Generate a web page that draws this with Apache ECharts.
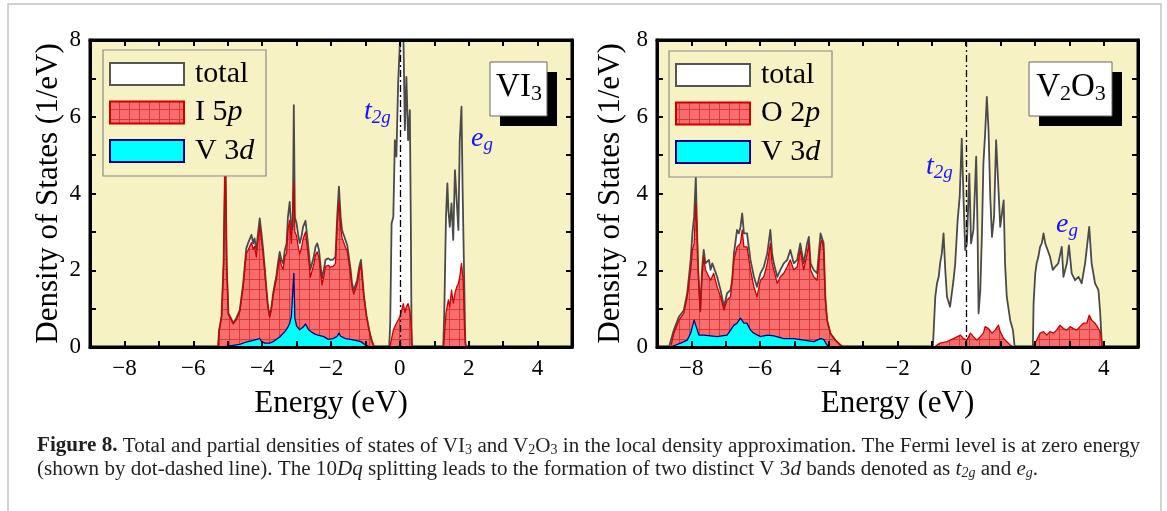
<!DOCTYPE html>
<html><head><meta charset="utf-8">
<script src="https://cdn.jsdelivr.net/npm/echarts/dist/echarts.min.js"></script>
<style>html,body{margin:0;padding:0;background:#fff}#c{width:1167px;height:511px}</style>
</head><body><div id="c"></div>
<script>
// ---------------- data (Energy eV, DOS 1/eV) ----------------
const xTickValues = [-8, -6, -4, -2, 0, 2, 4];
const xTickLabels = ['\u22128', '\u22126', '\u22124', '\u22122', '0', '2', '4'];
const yTickValues = [0, 2, 4, 6, 8];
const yTickLabels = ['0', '2', '4', '6', '8'];

// VI3 panel
const vi3TotalVB = [[-5.28,0],[-5.25,0.44],[-5.18,0.79],[-5.12,2.18],[-5.07,5.26],[-5.03,2.18],[-4.98,0.88],[-4.84,0.63],[-4.75,0.75],[-4.65,0.96],[-4.55,1.66],[-4.46,2.57],[-4.41,2.70],[-4.36,2.66],[-4.31,2.92],[-4.26,2.70],[-4.22,2.83],[-4.17,2.53],[-4.12,2.96],[-4.07,3.35],[-4.02,2.96],[-3.97,2.53],[-3.92,2.01],[-3.88,1.57],[-3.83,1.05],[-3.78,0.81],[-3.73,1.05],[-3.68,1.40],[-3.63,1.66],[-3.59,1.83],[-3.54,2.18],[-3.49,2.48],[-3.44,2.27],[-3.39,2.18],[-3.34,2.53],[-3.29,2.70],[-3.25,3.39],[-3.20,3.78],[-3.15,3.05],[-3.11,3.13],[-3.08,6.30],[-3.05,3.39],[-3.00,3.22],[-2.96,2.96],[-2.91,2.70],[-2.86,2.87],[-2.81,3.13],[-2.74,3.29],[-2.69,2.87],[-2.65,2.53],[-2.60,2.01],[-2.55,1.96],[-2.50,2.35],[-2.45,2.61],[-2.40,2.70],[-2.35,2.53],[-2.31,2.18],[-2.26,1.79],[-2.21,2.01],[-2.16,2.27],[-2.08,2.31],[-2.02,2.27],[-1.94,2.28],[-1.87,2.35],[-1.82,3.39],[-1.77,4.18],[-1.72,3.39],[-1.68,3.05],[-1.63,3.09],[-1.58,2.79],[-1.53,2.66],[-1.48,2.35],[-1.43,2.01],[-1.39,1.66],[-1.34,1.48],[-1.29,1.44],[-1.24,1.74],[-1.18,2.09],[-1.13,2.27],[-1.09,1.83],[-1.04,1.31],[-0.97,0.83],[-0.89,0.44],[-0.82,0.18],[-0.76,0.03],[-0.72,0]];
const vi3TotalT2g = [[-0.31,0],[-0.28,0.62],[-0.24,3.22],[-0.19,3.39],[-0.145,5.39],[-0.10,4.96],[-0.05,6.87],[0.0,7.9],[0.05,8.6],[0.10,8.3],[0.145,5.65],[0.19,7.04],[0.24,5.39],[0.29,6.17],[0.32,3.05],[0.34,0.10],[0.36,0]];
const vi3TotalEg = [[1.26,0],[1.29,0.88],[1.34,3.39],[1.38,4.26],[1.41,3.56],[1.45,3.13],[1.50,3.74],[1.55,2.79],[1.60,4.61],[1.65,4.65],[1.70,3.05],[1.74,5.39],[1.79,6.26],[1.82,4.26],[1.86,2.18],[1.90,0.10],[1.92,0]];
const vi3I5pVB = [[-5.28,0],[-5.25,0.42],[-5.18,0.77],[-5.12,2.15],[-5.07,5.20],[-5.03,2.15],[-4.98,0.85],[-4.84,0.60],[-4.75,0.71],[-4.65,0.92],[-4.55,1.58],[-4.46,2.44],[-4.41,2.52],[-4.36,2.50],[-4.31,2.72],[-4.26,2.55],[-4.22,2.62],[-4.17,2.35],[-4.12,2.80],[-4.07,3.15],[-4.02,2.78],[-3.97,2.40],[-3.92,1.90],[-3.88,1.50],[-3.83,1.00],[-3.78,0.77],[-3.73,1.00],[-3.68,1.33],[-3.63,1.58],[-3.59,1.74],[-3.54,2.06],[-3.49,2.33],[-3.44,2.12],[-3.39,2.02],[-3.34,2.35],[-3.29,2.45],[-3.25,3.05],[-3.20,3.30],[-3.15,2.70],[-3.11,2.75],[-3.08,4.30],[-3.05,3.00],[-3.00,2.90],[-2.96,2.65],[-2.91,2.42],[-2.86,2.58],[-2.81,2.82],[-2.74,3.00],[-2.69,2.60],[-2.65,2.30],[-2.60,1.82],[-2.55,1.78],[-2.50,2.15],[-2.45,2.40],[-2.40,2.48],[-2.35,2.33],[-2.31,2.00],[-2.26,1.62],[-2.21,1.84],[-2.16,2.10],[-2.08,2.13],[-2.02,2.08],[-1.94,2.10],[-1.87,2.18],[-1.82,3.15],[-1.77,3.80],[-1.72,3.12],[-1.68,2.85],[-1.63,2.90],[-1.58,2.60],[-1.53,2.50],[-1.48,2.20],[-1.43,1.88],[-1.39,1.56],[-1.34,1.38],[-1.29,1.35],[-1.24,1.64],[-1.18,1.98],[-1.13,2.16],[-1.09,1.75],[-1.04,1.25],[-0.97,0.79],[-0.89,0.42],[-0.82,0.17],[-0.76,0.03],[-0.72,0]];
const vi3I5pT2g = [[-0.29,0],[-0.28,0.05],[-0.19,0.44],[-0.10,0.62],[0.0,0.79],[0.05,0.95],[0.10,1.13],[0.145,0.90],[0.19,1.05],[0.24,1.13],[0.29,0.95],[0.34,0.45],[0.36,0]];
const vi3I5pEg = [[1.26,0],[1.28,0.10],[1.34,0.88],[1.41,1.23],[1.45,1.05],[1.50,1.48],[1.55,1.14],[1.60,1.40],[1.65,1.56],[1.70,1.65],[1.74,1.83],[1.79,2.18],[1.84,1.74],[1.88,0.44],[1.92,0]];
const vi3V3dVB = [[-5.28,0],[-5.10,0.01],[-4.98,0.02],[-4.84,0.04],[-4.65,0.07],[-4.46,0.13],[-4.26,0.17],[-4.07,0.22],[-4.02,0.15],[-3.92,0.10],[-3.78,0.10],[-3.68,0.14],[-3.49,0.26],[-3.34,0.40],[-3.25,0.52],[-3.20,0.62],[-3.15,0.80],[-3.11,0.85],[-3.08,1.92],[-3.05,0.75],[-3.00,0.55],[-2.91,0.45],[-2.81,0.52],[-2.74,0.60],[-2.65,0.45],[-2.55,0.38],[-2.45,0.33],[-2.35,0.30],[-2.21,0.27],[-2.08,0.20],[-1.94,0.22],[-1.82,0.28],[-1.77,0.36],[-1.72,0.28],[-1.58,0.22],[-1.43,0.20],[-1.29,0.17],[-1.13,0.14],[-1.04,0.08],[-0.97,0.04],[-0.89,0.01],[-0.82,0]];

// V2O3 panel
const v2o3TotalVB = [[-8.65,0],[-8.51,0.44],[-8.36,0.79],[-8.22,0.96],[-8.12,1.40],[-8.02,2.27],[-7.97,2.96],[-7.92,3.39],[-7.87,4.43],[-7.85,3.65],[-7.81,2.18],[-7.74,0.96],[-7.69,2.01],[-7.64,2.53],[-7.59,2.18],[-7.54,2.18],[-7.49,2.27],[-7.44,2.01],[-7.39,2.18],[-7.35,2.18],[-7.25,1.83],[-7.15,1.48],[-7.05,1.05],[-6.96,1.40],[-6.86,1.48],[-6.81,1.74],[-6.76,2.44],[-6.67,3.05],[-6.62,2.96],[-6.57,3.13],[-6.52,3.48],[-6.47,2.96],[-6.38,2.96],[-6.28,2.27],[-6.18,1.83],[-6.09,1.57],[-5.99,1.92],[-5.89,2.09],[-5.79,2.44],[-5.70,3.05],[-5.65,2.44],[-5.60,2.18],[-5.50,1.83],[-5.41,2.01],[-5.31,2.18],[-5.21,2.27],[-5.12,2.53],[-5.07,2.35],[-5.02,2.18],[-4.92,2.27],[-4.83,2.70],[-4.73,2.18],[-4.63,2.70],[-4.58,2.87],[-4.53,2.18],[-4.44,2.01],[-4.34,1.92],[-4.24,2.96],[-4.20,3.00],[-4.15,2.70],[-4.10,1.31],[-4.05,0.70],[-3.95,0.35],[-3.81,0.18],[-3.66,0.05],[-3.57,0]];
const v2o3TotalT2g = [[-0.97,0],[-0.90,1.31],[-0.85,1.66],[-0.80,1.83],[-0.76,2.18],[-0.71,2.44],[-0.66,2.96],[-0.61,2.01],[-0.56,1.31],[-0.47,1.05],[-0.37,1.74],[-0.32,2.18],[-0.25,3.30],[-0.19,3.91],[-0.13,5.43],[-0.08,3.91],[-0.03,2.53],[0.02,2.70],[0.09,4.52],[0.14,2.70],[0.21,3.05],[0.29,4.96],[0.33,3.05],[0.36,0.88],[0.41,1.48],[0.46,3.05],[0.50,4.78],[0.55,5.56],[0.60,6.52],[0.65,5.65],[0.70,3.91],[0.75,2.87],[0.81,3.39],[0.87,5.39],[0.94,4.09],[0.99,3.13],[1.09,3.82],[1.13,2.18],[1.18,1.31],[1.28,0.70],[1.36,0.44],[1.41,0]];
const v2o3TotalEg = [[1.94,0],[1.96,1.13],[2.01,1.92],[2.05,2.18],[2.10,2.35],[2.15,2.61],[2.20,2.70],[2.25,2.96],[2.30,2.70],[2.34,2.70],[2.44,2.35],[2.52,2.01],[2.59,2.09],[2.68,2.18],[2.78,2.61],[2.83,1.83],[2.93,2.18],[2.99,2.65],[3.07,1.92],[3.17,1.74],[3.27,1.83],[3.36,1.66],[3.46,2.18],[3.58,3.13],[3.65,2.18],[3.75,1.66],[3.85,1.48],[3.90,0.88],[3.94,0.18],[3.96,0]];
const v2o3O2pVB = [[-8.60,0],[-8.51,0.36],[-8.36,0.70],[-8.22,0.88],[-8.12,1.31],[-8.02,2.01],[-7.97,2.53],[-7.92,2.70],[-7.87,3.74],[-7.83,2.87],[-7.79,1.74],[-7.74,0.92],[-7.69,1.83],[-7.64,2.35],[-7.59,2.01],[-7.54,1.92],[-7.44,1.74],[-7.35,1.92],[-7.25,1.57],[-7.15,1.31],[-7.05,0.96],[-6.96,1.23],[-6.86,1.31],[-6.76,2.27],[-6.67,2.61],[-6.57,2.70],[-6.52,3.05],[-6.47,2.61],[-6.38,2.61],[-6.28,2.01],[-6.18,1.57],[-6.09,1.31],[-5.99,1.74],[-5.89,1.83],[-5.79,2.18],[-5.70,2.70],[-5.65,2.18],[-5.60,2.01],[-5.50,1.66],[-5.41,1.83],[-5.31,1.92],[-5.21,2.09],[-5.12,2.27],[-5.02,2.01],[-4.92,2.09],[-4.83,2.53],[-4.73,2.01],[-4.63,2.44],[-4.58,2.70],[-4.53,2.01],[-4.44,1.83],[-4.34,1.74],[-4.24,2.70],[-4.20,2.79],[-4.15,2.53],[-4.10,1.22],[-4.05,0.70],[-3.95,0.35],[-3.81,0.18],[-3.66,0.05],[-3.57,0]];
const v2o3O2pT2g = [[-0.92,0],[-0.85,0.05],[-0.76,0.10],[-0.56,0.14],[-0.37,0.22],[-0.17,0.31],[-0.08,0.22],[0.02,0.18],[0.12,0.36],[0.21,0.27],[0.31,0.18],[0.41,0.27],[0.50,0.36],[0.55,0.53],[0.65,0.48],[0.75,0.36],[0.84,0.44],[0.94,0.57],[0.99,0.40],[1.09,0.22],[1.18,0.14],[1.28,0.05],[1.40,0]];
const v2o3O2pEg = [[1.94,0],[1.96,0.05],[2.05,0.18],[2.15,0.36],[2.25,0.40],[2.34,0.31],[2.44,0.40],[2.54,0.36],[2.63,0.44],[2.73,0.57],[2.83,0.48],[2.93,0.44],[3.02,0.53],[3.12,0.48],[3.21,0.44],[3.31,0.53],[3.41,0.62],[3.51,0.62],[3.58,0.83],[3.65,0.70],[3.75,0.62],[3.85,0.48],[3.92,0.35],[3.96,0]];
const v2o3V3dVB = [[-8.60,0],[-8.31,0.10],[-8.12,0.18],[-8.02,0.36],[-7.92,0.70],[-7.87,0.66],[-7.78,0.31],[-7.64,0.31],[-7.25,0.27],[-6.96,0.31],[-6.86,0.44],[-6.76,0.57],[-6.67,0.62],[-6.57,0.75],[-6.47,0.62],[-6.38,0.62],[-6.28,0.44],[-6.18,0.36],[-5.99,0.27],[-5.79,0.31],[-5.60,0.29],[-5.31,0.22],[-5.02,0.22],[-4.73,0.18],[-4.44,0.14],[-4.24,0.22],[-4.15,0.20],[-4.05,0.05],[-3.95,0]];

// ---------------- helpers ----------------
function joinBands(...bands) {
  const out = [];
  bands.forEach((b, i) => { if (i) out.push(['-', '-']); out.push(...b); });
  return out;
}
function makeHatch() {
  const c = document.createElement('canvas');
  c.width = 10; c.height = 10;
  const g = c.getContext('2d');
  g.fillStyle = '#f86e6e'; g.fillRect(0, 0, 10, 10);
  g.fillStyle = '#d83a3a'; g.fillRect(9, 0, 1, 10); g.fillRect(0, 9, 10, 1);
  return c;
}
const hatch = { image: makeHatch(), repeat: 'repeat' };
const SERIF = 'Liberation Serif, Times New Roman, serif';
const BG = '#f7f2c3';
const BLUE = '#1414ff';
const CAP = '#231f20';

function xLabel(v) { const i = xTickValues.indexOf(Math.round(v)); return i >= 0 && Math.abs(v - Math.round(v)) < 1e-6 ? xTickLabels[i] : ''; }
function yLabel(v) { const i = yTickValues.indexOf(Math.round(v)); return i >= 0 && Math.abs(v - Math.round(v)) < 1e-6 ? yTickLabels[i] : ''; }

const grids = [
  { left: 90, top: 40, width: 482, height: 307 },
  { left: 657, top: 40, width: 481, height: 307 }
].map(g => Object.assign(g, { show: true, backgroundColor: BG, borderColor: '#000', borderWidth: 3, containLabel: false, outerBoundsMode: 'none' }));

const tick = { show: true, inside: true, length: 6, lineStyle: { color: '#000', width: 2 } };
const line = { show: true, onZero: false, lineStyle: { color: '#000', width: 3 } };
const xAxes = [], yAxes = [];
[0, 1].forEach(gi => {
  xAxes.push({ type: 'value', gridIndex: gi, min: -9, max: 5, interval: 1, position: 'bottom', z: 5,
    axisLine: line, axisTick: tick, splitLine: { show: false },
    axisLabel: { formatter: xLabel, fontFamily: SERIF, fontSize: 23, color: '#000', margin: 10 },
    name: 'Energy (eV)', nameLocation: 'middle', nameGap: 41,
    nameTextStyle: { fontFamily: SERIF, fontSize: 31, color: '#000' } });
  xAxes.push({ type: 'value', gridIndex: gi, min: -9, max: 5, interval: 1, position: 'top', z: 5,
    axisLine: line, axisTick: tick, splitLine: { show: false }, axisLabel: { show: false } });
  yAxes.push({ type: 'value', gridIndex: gi, min: 0, max: 8, interval: 1, position: 'left', z: 5,
    axisLine: line, axisTick: tick, splitLine: { show: false },
    axisLabel: { formatter: yLabel, fontFamily: SERIF, fontSize: 23, color: '#000', margin: 9 },
    name: 'Density of States (1/eV)', nameLocation: 'middle', nameGap: gi === 0 ? 26 : 31, nameRotate: 90,
    nameTextStyle: { fontFamily: SERIF, fontSize: 31, color: '#000' } });
  yAxes.push({ type: 'value', gridIndex: gi, min: 0, max: 8, interval: 1, position: 'right', z: 5,
    axisLine: line, axisTick: tick, splitLine: { show: false }, axisLabel: { show: false } });
});

function areaSeries(name, gi, data, lineColor, lineWidth, fill, extra) {
  return Object.assign({
    type: 'line', name, xAxisIndex: gi * 2, yAxisIndex: gi * 2, data,
    symbol: 'none', showSymbol: false, smooth: false, connectNulls: false, clip: true,
    lineStyle: { color: lineColor, width: lineWidth, join: 'round' },
    areaStyle: { color: fill, opacity: 1 }, z: 2
  }, extra || {});
}
const fermi = { markLine: { symbol: 'none', silent: true, label: { show: false },
  lineStyle: { color: '#000', width: 1.3, type: [7, 3, 2, 3] }, data: [{ xAxis: 0 }] } };

const series = [
  areaSeries('total', 0, joinBands(vi3TotalVB, vi3TotalT2g, vi3TotalEg), '#4a4a4a', 1.8, '#ffffff'),
  areaSeries('I 5p', 0, joinBands(vi3I5pVB, vi3I5pT2g, vi3I5pEg), '#cc0000', 1.3, hatch),
  areaSeries('V 3d', 0, vi3V3dVB, '#000080', 1.3, '#00ffff', fermi),
  areaSeries('total', 1, joinBands(v2o3TotalVB, v2o3TotalT2g, v2o3TotalEg), '#4a4a4a', 1.8, '#ffffff'),
  areaSeries('O 2p', 1, joinBands(v2o3O2pVB, v2o3O2pT2g, v2o3O2pEg), '#cc0000', 1.3, hatch),
  areaSeries('V 3d', 1, v2o3V3dVB, '#000080', 1.3, '#00ffff', fermi)
];

// ---------------- graphic: legends, labels, caption ----------------
const G = [];
G.push({ type: 'rect', silent: true, z: 0, shape: { x: 8, y: 4, width: 1153, height: 700 }, style: { fill: 'none', stroke: '#c4c4c4', lineWidth: 1.5 } });

function legend(x0, y0, names) {
  G.push({ type: 'rect', z: 10, shape: { x: x0, y: y0, width: 163, height: 126 }, style: { fill: BG, stroke: '#8a8a8a', lineWidth: 1.2 } });
  const sw = [
    { fill: '#ffffff', stroke: '#555' },
    { fill: hatch, stroke: '#cc0000' },
    { fill: '#00ffff', stroke: '#000080' }
  ];
  [0, 1, 2].forEach(i => {
    const cy = y0 + 24 + i * 38.5;
    G.push({ type: 'rect', z: 11, shape: { x: x0 + 7, y: cy - 11, width: 74, height: 22 }, style: Object.assign({ lineWidth: 2 }, sw[i]) });
    G.push({ type: 'text', z: 11, x: x0 + 92, y: cy, style: { text: names[i], align: 'left', verticalAlign: 'middle',
      rich: { n: { fontFamily: SERIF, fontSize: 30, fill: '#000' }, i: { fontFamily: SERIF, fontSize: 30, fontStyle: 'italic', fill: '#000' } } } });
  });
}
legend(103, 50, ['{n|total}', '{n|I 5}{i|p}', '{n|V 3}{i|d}']);
legend(669, 51, ['{n|total}', '{n|O 2}{i|p}', '{n|V 3}{i|d}']);

function tagBox(x, y, w, h, text, cx) {
  G.push({ type: 'rect', z: 10, shape: { x: x + 10, y: y + 10, width: w, height: h }, style: { fill: '#000' } });
  G.push({ type: 'rect', z: 11, shape: { x: x, y: y, width: w, height: h }, style: { fill: '#fff', stroke: '#666', lineWidth: 1 } });
  G.push({ type: 'text', z: 12, x: cx, y: y + 7, style: { text, align: 'center', verticalAlign: 'top',
    rich: { a: { fontFamily: SERIF, fontSize: 33, lineHeight: 36, fill: '#000' },
            s: { fontFamily: SERIF, fontSize: 22, lineHeight: 22, fill: '#000', verticalAlign: 'bottom' } } } });
}
tagBox(490, 62, 57, 54, '{a|VI}{s|3}', 519);
tagBox(1029, 62, 83, 54, '{a|V}{s|2}{a|O}{s|3}', 1071);

const bandRich = {
  t: { fontFamily: SERIF, fontSize: 28, fontStyle: 'italic', lineHeight: 30, fill: BLUE },
  s: { fontFamily: SERIF, fontSize: 19, fontStyle: 'italic', lineHeight: 17, fill: BLUE, verticalAlign: 'bottom' }
};
function bandLabel(x, y, text) {
  G.push({ type: 'text', z: 12, x, y, style: { text, align: 'left', verticalAlign: 'top', rich: bandRich } });
}
bandLabel(364, 97, '{t|t}{s|2g}');
bandLabel(471, 124, '{t|e}{s|g}');
bandLabel(926, 152, '{t|t}{s|2g}');
bandLabel(1056, 210, '{t|e}{s|g}');

const FS = 21.1;
const capRich = {
  b: { fontFamily: SERIF, fontSize: FS, fontWeight: 'bold', lineHeight: 23, fill: CAP },
  r: { fontFamily: SERIF, fontSize: FS, lineHeight: 23, fill: CAP },
  i: { fontFamily: SERIF, fontSize: FS, fontStyle: 'italic', lineHeight: 23, fill: CAP },
  s: { fontFamily: SERIF, fontSize: 14, lineHeight: 14, fill: CAP, verticalAlign: 'bottom' },
  si: { fontFamily: SERIF, fontSize: 14, fontStyle: 'italic', lineHeight: 14, fill: CAP, verticalAlign: 'bottom' }
};
G.push({ type: 'text', z: 12, x: 37, y: 446, style: { align: 'left', verticalAlign: 'middle', rich: capRich,
  text: '{b|Figure 8.}{r| Total and partial densities of states of VI}{s|3}{r| and V}{s|2}{r|O}{s|3}{r| in the local density approximation. The Fermi level is at zero energy}' } });
G.push({ type: 'text', z: 12, x: 37, y: 469, style: { align: 'left', verticalAlign: 'middle', rich: capRich,
  text: '{r|(shown by dot-dashed line). The 10}{i|Dq}{r| splitting leads to the formation of two distinct V 3}{i|d}{r| bands denoted as }{i|t}{si|2g}{r| and }{i|e}{si|g}{r|.}' } });

const chart = echarts.init(document.getElementById('c'), null, { renderer: 'canvas' });
chart.setOption({
  animation: false,
  backgroundColor: '#ffffff',
  grid: grids,
  xAxis: xAxes,
  yAxis: yAxes,
  series,
  graphic: { elements: G }
});
</script>
</body></html>
